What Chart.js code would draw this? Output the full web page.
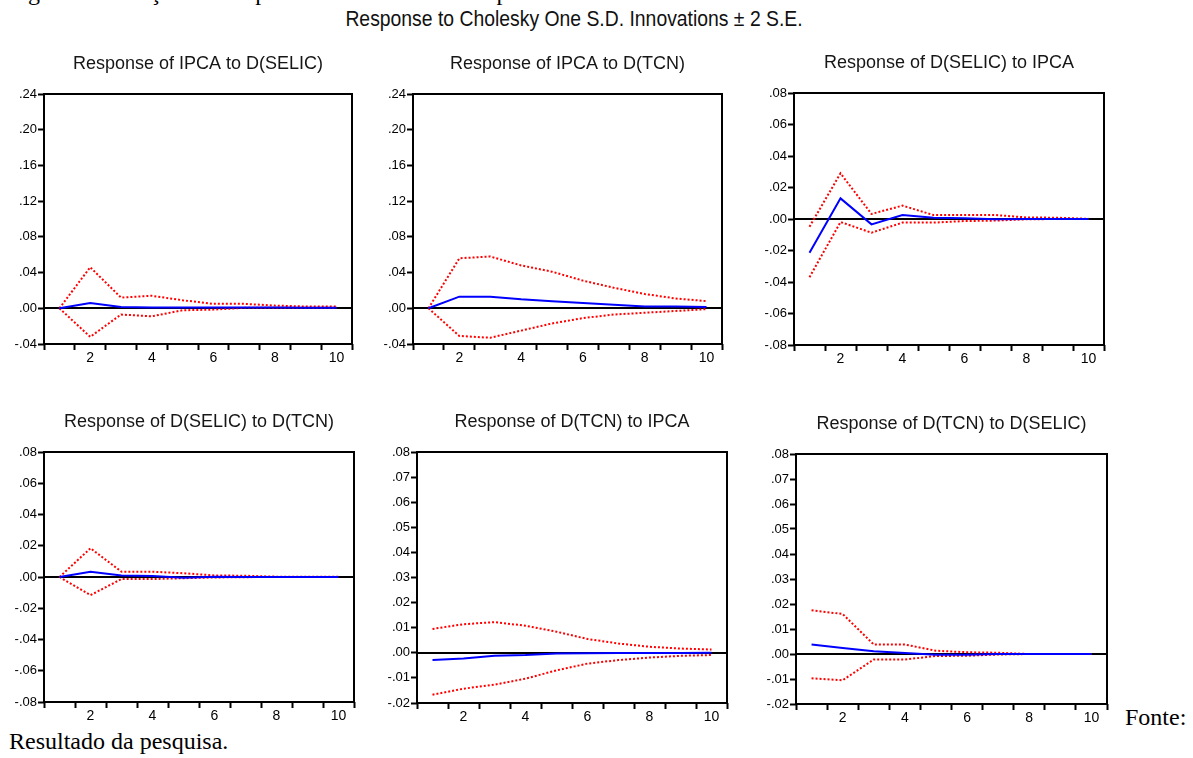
<!DOCTYPE html>
<html>
<head>
<meta charset="utf-8">
<script src="https://cdn.jsdelivr.net/npm/chart.js@4.4.1/dist/chart.umd.min.js"></script>
<style>
  html, body { margin:0; padding:0; background:#fff; }
  body { width:1193px; height:758px; overflow:hidden; position:relative; font-family:"Liberation Sans", Arial, sans-serif; }
  canvas.cv { position:absolute; }
  .serif { position:absolute; font-family:"Liberation Serif","Times New Roman",serif; font-size:24px; line-height:24px; color:#000; white-space:nowrap; }
  #maintitle { position:absolute; left:574px; top:8px; font-size:22px; line-height:22px; color:#111; white-space:nowrap; transform:translateX(-50%) scaleX(0.88); transform-origin:center; }
</style>
</head>
<body>
<div class="serif" style="left:8px; top:-20px;">Figura 3 – Funções de resposta das variáveis ao impulso</div>
<div id="maintitle">Response to Cholesky One S.D. Innovations ± 2 S.E.</div>
<div class="serif" style="left:1125px; top:705px;">Fonte:</div>
<div class="serif" style="left:9px; top:729px;">Resultado da pesquisa.</div>

<canvas id="c1" class="cv"></canvas>
<canvas id="c2" class="cv"></canvas>
<canvas id="c3" class="cv"></canvas>
<canvas id="c4" class="cv"></canvas>
<canvas id="c5" class="cv"></canvas>
<canvas id="c6" class="cv"></canvas>

<script>
// ---------- DATA ----------
const periods = [1, 2, 3, 4, 5, 6, 7, 8, 9, 10];
const xTickMarks = [0.5, 1.5, 2.5, 3.5, 4.5, 5.5, 6.5, 7.5, 8.5, 9.5, 10.5];
const xTickLabels = [2, 4, 6, 8, 10];

const yTicksIpca = [-0.04, 0.00, 0.04, 0.08, 0.12, 0.16, 0.20, 0.24];
const yTicksSelic = [-0.08, -0.06, -0.04, -0.02, 0.00, 0.02, 0.04, 0.06, 0.08];
const yTicksTcn = [-0.02, -0.01, 0.00, 0.01, 0.02, 0.03, 0.04, 0.05, 0.06, 0.07, 0.08];

const titles = [
  'Response of IPCA to D(SELIC)',
  'Response of IPCA to D(TCN)',
  'Response of D(SELIC) to IPCA',
  'Response of D(SELIC) to D(TCN)',
  'Response of D(TCN) to IPCA',
  'Response of D(TCN) to D(SELIC)'
];

// Response of IPCA to D(SELIC)
const ipcaSelicResp  = [0, 0.0060, 0.0015, 0.0010, 0.0010, 0.0008, 0.0008, 0.0008, 0.0006, 0.0006];
const ipcaSelicUpper = [0, 0.0460, 0.0120, 0.0140, 0.0090, 0.0050, 0.0050, 0.0030, 0.0020, 0.0020];
const ipcaSelicLower = [0, -0.0320, -0.0070, -0.0090, -0.0022, -0.0015, 0.0005, 0.0005, 0.0005, 0.0005];

// Response of IPCA to D(TCN)
const ipcaTcnResp  = [0, 0.0130, 0.0130, 0.0100, 0.0080, 0.0060, 0.0040, 0.0020, 0.0020, 0.0015];
const ipcaTcnUpper = [0, 0.0560, 0.0580, 0.0480, 0.0410, 0.0310, 0.0230, 0.0160, 0.0110, 0.0080];
const ipcaTcnLower = [0, -0.0310, -0.0330, -0.0250, -0.0170, -0.0110, -0.0070, -0.0050, -0.0030, -0.0010];

// Response of D(SELIC) to IPCA
const selicIpcaResp  = [-0.0214, 0.0131, -0.0034, 0.0025, 0.0008, 0.0004, -0.0002, 0.0000, 0.0000, 0.0000];
const selicIpcaUpper = [-0.0049, 0.0290, 0.0032, 0.0085, 0.0025, 0.0025, 0.0025, 0.0010, 0.0008, 0.0001];
const selicIpcaLower = [-0.0370, -0.0019, -0.0087, -0.0023, -0.0023, -0.0013, -0.0010, -0.0002, 0.0000, 0.0000];

// Response of D(SELIC) to D(TCN)
const selicTcnResp  = [0, 0.0034, 0.0010, 0.0006, -0.0004, 0.0001, 0.0000, 0.0000, 0.0000, 0.0000];
const selicTcnUpper = [0, 0.0184, 0.0034, 0.0034, 0.0024, 0.0010, 0.0008, 0.0002, 0.0001, 0.0001];
const selicTcnLower = [0, -0.0116, -0.0013, -0.0013, -0.0008, -0.0003, -0.0001, 0.0000, 0.0000, 0.0000];

// Response of D(TCN) to IPCA
const tcnIpcaResp  = [-0.0029, -0.0023, -0.0012, -0.0009, -0.0003, -0.0002, -0.0001, -0.0001, -0.0001, 0.0000];
const tcnIpcaUpper = [0.0095, 0.0114, 0.0122, 0.0108, 0.0084, 0.0055, 0.0037, 0.0024, 0.0017, 0.0013];
const tcnIpcaLower = [-0.0167, -0.0143, -0.0127, -0.0103, -0.0070, -0.0043, -0.0029, -0.0019, -0.0012, -0.0009];

// Response of D(TCN) to D(SELIC)
const tcnSelicResp  = [0.0038, 0.0024, 0.0011, 0.0004, -0.0003, -0.0003, 0.0000, 0.0000, 0.0000, 0.0000];
const tcnSelicUpper = [0.0175, 0.0160, 0.0038, 0.0038, 0.0013, 0.0007, 0.0005, 0.0000, 0.0000, 0.0000];
const tcnSelicLower = [-0.0097, -0.0105, -0.0022, -0.0022, -0.0008, -0.0007, -0.0002, 0.0000, 0.0000, 0.0000];

// ---------- LAYOUT (plot-area boxes: left, top, right, bottom) ----------
const panels = [
  { id:'c1', title:titles[0], resp:ipcaSelicResp, up:ipcaSelicUpper, lo:ipcaSelicLower, yTicks:yTicksIpca,  box:[44, 94, 352, 344] },
  { id:'c2', title:titles[1], resp:ipcaTcnResp,   up:ipcaTcnUpper,   lo:ipcaTcnLower,   yTicks:yTicksIpca,  box:[413, 94, 722, 344] },
  { id:'c3', title:titles[2], resp:selicIpcaResp, up:selicIpcaUpper, lo:selicIpcaLower, yTicks:yTicksSelic, box:[794, 93, 1104, 345] },
  { id:'c4', title:titles[3], resp:selicTcnResp,  up:selicTcnUpper,  lo:selicTcnLower,  yTicks:yTicksSelic, box:[44, 452, 354, 702] },
  { id:'c5', title:titles[4], resp:tcnIpcaResp,   up:tcnIpcaUpper,   lo:tcnIpcaLower,   yTicks:yTicksTcn,   box:[417, 452, 727, 703] },
  { id:'c6', title:titles[5], resp:tcnSelicResp,  up:tcnSelicUpper,  lo:tcnSelicLower,  yTicks:yTicksTcn,   box:[796, 454, 1107, 704] }
];

const PAD_L = 44, PAD_T = 45, PAD_R = 8, PAD_B = 28;
const FONT = '"Liberation Sans", Arial, sans-serif';

function fmtY(v) {
  const s = Math.abs(v).toFixed(2).replace(/^0/, '');
  return (v < -1e-9 ? '-' : '') + s;
}

const panelPlugin = {
  id: 'panel',
  beforeDatasetsDraw(chart) {
    const { ctx, chartArea: a, scales: { y } } = chart;
    const y0 = Math.round(y.getPixelForValue(0));
    ctx.save();
    ctx.strokeStyle = '#000';
    ctx.lineWidth = 2;
    ctx.beginPath();
    ctx.moveTo(a.left, y0);
    ctx.lineTo(a.right, y0);
    ctx.stroke();
    ctx.restore();
  },
  afterDraw(chart, args, opts) {
    const { ctx, chartArea: a } = chart;
    ctx.save();
    ctx.strokeStyle = '#000';
    ctx.lineWidth = 2;
    ctx.strokeRect(Math.round(a.left), Math.round(a.top), Math.round(a.right - a.left), Math.round(a.bottom - a.top));
    ctx.fillStyle = '#161616';
    ctx.font = '18px ' + FONT;
    ctx.textAlign = 'center';
    ctx.textBaseline = 'alphabetic';
    ctx.fillText(opts.text, (a.left + a.right) / 2, a.top - 25);
    ctx.restore();
  }
};

function series(vals) {
  return periods.map((p, i) => ({ x: p, y: vals[i] }));
}

panels.forEach(p => {
  const [l, t, r, b] = p.box;
  const cv = document.getElementById(p.id);
  const W = (r - l) + PAD_L + PAD_R;
  const H = (b - t) + PAD_T + PAD_B;
  cv.width = W; cv.height = H;
  cv.style.width = W + 'px'; cv.style.height = H + 'px';
  cv.style.left = (l - PAD_L) + 'px';
  cv.style.top = (t - PAD_T) + 'px';

  const allX = xTickMarks.concat(xTickLabels).sort((a, b) => a - b);

  new Chart(cv.getContext('2d'), {
    type: 'line',
    data: {
      datasets: [
        { data: series(p.resp), borderColor: '#0000ff', borderWidth: 2, pointRadius: 0, tension: 0, fill: false },
        { data: series(p.up), borderColor: '#ff0000', borderWidth: 2, borderDash: [2, 2], pointRadius: 0, tension: 0, fill: false },
        { data: series(p.lo), borderColor: '#ff0000', borderWidth: 2, borderDash: [2, 2], pointRadius: 0, tension: 0, fill: false }
      ]
    },
    options: {
      responsive: false,
      animation: false,
      devicePixelRatio: 1,
      layout: { padding: { left: 0, top: PAD_T, right: PAD_R, bottom: 0 } },
      plugins: {
        legend: { display: false },
        tooltip: { enabled: false },
        panel: { text: p.title }
      },
      scales: {
        x: {
          type: 'linear',
          min: 0.5, max: 10.5,
          afterBuildTicks: s => { s.ticks = allX.map(v => ({ value: v })); },
          afterFit: s => { s.height = PAD_B; },
          border: { display: false },
          grid: {
            drawOnChartArea: false,
            drawTicks: true,
            tickLength: 6,
            tickWidth: 2,
            tickColor: ctx => (ctx.tick && xTickLabels.includes(ctx.tick.value)) ? 'rgba(0,0,0,0)' : '#000'
          },
          ticks: {
            autoSkip: false, maxRotation: 0, minRotation: 0,
            padding: 0,
            color: '#000',
            font: { family: FONT, size: 14 },
            callback: v => xTickLabels.includes(v) ? String(v) : ''
          }
        },
        y: {
          type: 'linear',
          min: p.yTicks[0], max: p.yTicks[p.yTicks.length - 1],
          afterBuildTicks: s => { s.ticks = p.yTicks.map(v => ({ value: v })); },
          afterFit: s => { s.width = PAD_L; },
          border: { display: false },
          grid: {
            drawOnChartArea: false,
            drawTicks: true,
            tickLength: 6,
            tickWidth: 2,
            tickColor: '#000'
          },
          ticks: {
            padding: 1,
            color: '#000',
            font: { family: FONT, size: 13 },
            callback: v => fmtY(v)
          }
        }
      }
    },
    plugins: [panelPlugin]
  });
});
</script>
</body>
</html>
